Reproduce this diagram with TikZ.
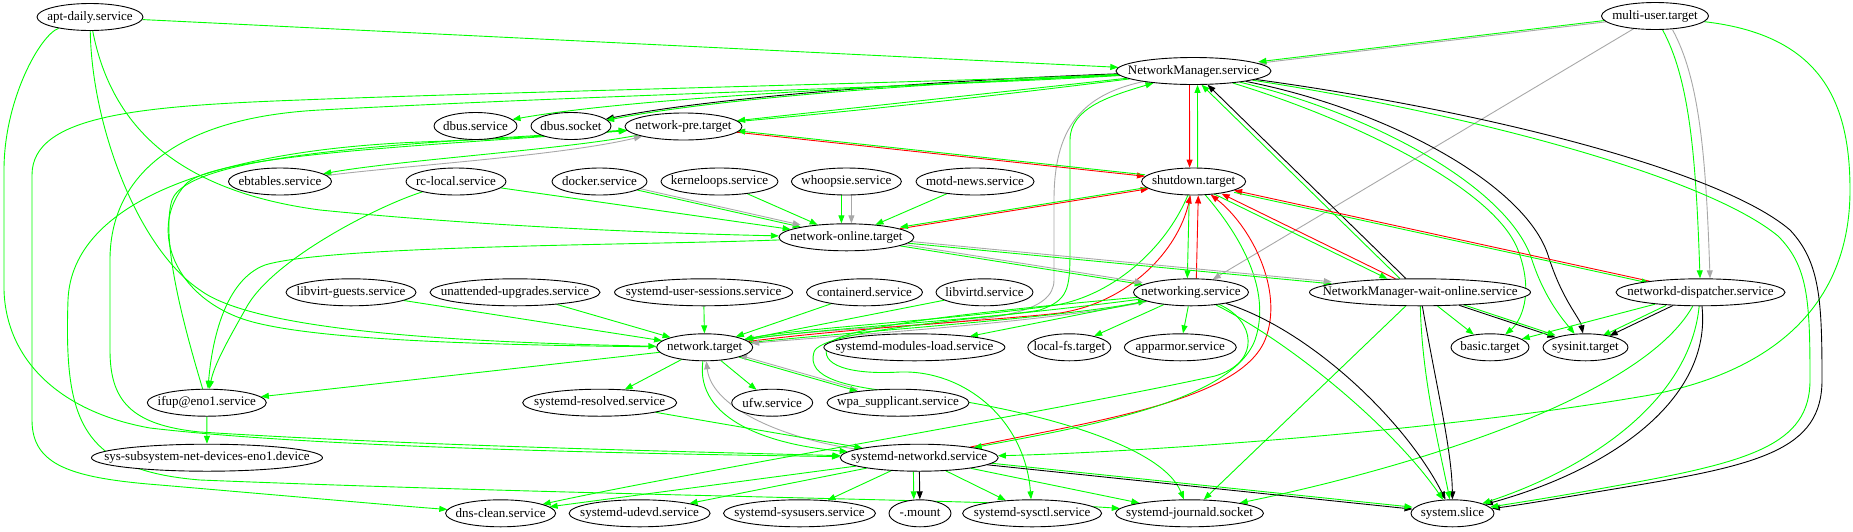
\documentclass[tikz,border=0pt]{standalone}
\usepackage{fontspec}
\setmainfont{Liberation Serif}
\usetikzlibrary{arrows.meta,shapes.geometric}
\definecolor{afterclr}{HTML}{00FF00}
\definecolor{wantclr}{HTML}{A8A8A8}
\definecolor{clashclr}{HTML}{FF0000}
\pgfdeclarelayer{edges}
\pgfsetlayers{edges,main}

\begin{document}
\begin{tikzpicture}[
  x=1pt, y=-1pt,
  unit/.style       = {ellipse, draw=black, line width=0.9pt, fill=white,
                       font=\fontsize{13}{15}\selectfont,
                       inner xsep=-60pt, inner ysep=-20pt, minimum height=27pt},
  link/.style       = {-{Triangle[length=8pt,width=6pt]}, line width=0.9pt},
  ordering/.style   = {link, afterclr},
  wanting/.style    = {link, wantclr},
  requiring/.style  = {link, black},
  conflicting/.style= {link, clashclr},
]
\useasboundingbox (0,0) rectangle (1853,531);

\node[unit, minimum width=106pt] (aptdaily)      at (90,17)       {apt-daily.service};
\node[unit, minimum width=107pt] (multiuser)     at (1655,16)     {multi-user.target};
\node[unit, minimum width=155pt] (nm)            at (1193.5,71)   {NetworkManager.service};
\node[unit, minimum width=83pt]  (dbussvc)       at (475.5,126)   {dbus.service};
\node[unit, minimum width=80pt]  (dbussock)      at (571,126)     {dbus.socket};
\node[unit, minimum width=117pt] (netpre)        at (683.5,126.5) {network-pre.target};
\node[unit, minimum width=103pt] (ebtables)      at (280,181.5)   {ebtables.service};
\node[unit, minimum width=100pt] (rclocal)       at (456,181.5)   {rc-local.service};
\node[unit, minimum width=95pt]  (docker)        at (599.5,181.5) {docker.service};
\node[unit, minimum width=117pt] (kerneloops)    at (719.5,181.5) {kerneloops.service};
\node[unit, minimum width=110pt] (whoopsie)      at (846.4,181.5) {whoopsie.service};
\node[unit, minimum width=118pt] (motd)          at (975,181.5)   {motd-news.service};
\node[unit, minimum width=104pt] (shutdown)      at (1193.6,181.5){shutdown.target};
\node[unit, minimum width=135pt] (netonline)     at (846.4,237.3) {network-online.target};
\node[unit, minimum width=130pt] (libvirtguests) at (351,292.3)   {libvirt-guests.service};
\node[unit, minimum width=170pt] (unattended)    at (515,292.3)   {unattended-upgrades.service};
\node[unit, minimum width=178pt] (usersessions)  at (703.6,292.3) {systemd-user-sessions.service};
\node[unit, minimum width=116pt] (containerd)    at (864.5,292.3) {containerd.service};
\node[unit, minimum width=97pt]  (libvirtd)      at (984.5,292.3) {libvirtd.service};
\node[unit, minimum width=115pt] (networking)    at (1191,292.3)  {networking.service};
\node[unit, minimum width=221pt] (nmwait)        at (1420,292.3)  {NetworkManager-wait-online.service};
\node[unit, minimum width=169pt] (dispatcher)    at (1700.5,292.3){networkd-dispatcher.service};
\node[unit, minimum width=96pt]  (nettarget)     at (704.7,347.3) {network.target};
\node[unit, minimum width=181pt] (modulesload)   at (914.4,347.3) {systemd-modules-load.service};
\node[unit, minimum width=83pt]  (localfs)       at (1069.3,347.3){local-fs.target};
\node[unit, minimum width=112pt] (apparmor)      at (1180.3,347.3){apparmor.service};
\node[unit, minimum width=78pt]  (basic)         at (1490,347.3)  {basic.target};
\node[unit, minimum width=85pt]  (sysinit)       at (1585.5,347.3){sysinit.target};
\node[unit, minimum width=119pt] (ifup)          at (206.8,402.7) {ifup@eno1.service};
\node[unit, minimum width=154pt] (resolved)      at (599.7,402.7) {systemd-resolved.service};
\node[unit, minimum width=81pt]  (ufw)           at (772.2,402.7) {ufw.service};
\node[unit, minimum width=142pt] (wpa)           at (898,402.7)   {wpa\_supplicant.service};
\node[unit, minimum width=231pt] (subsys)        at (207,457.7)   {sys-subsystem-net-devices-eno1.device};
\node[unit, minimum width=158pt] (networkd)      at (919.2,457.7) {systemd-networkd.service};
\node[unit, minimum width=110pt] (dnsclean)      at (500.6,513.3) {dns-clean.service};
\node[unit, minimum width=141pt] (udevd)         at (639.6,513.3) {systemd-udevd.service};
\node[unit, minimum width=152pt] (sysusers)      at (799.5,513.3) {systemd-sysusers.service};
\node[unit, minimum width=62pt]  (mount)         at (920,513.3)   {-.mount};
\node[unit, minimum width=139pt] (sysctl)        at (1032.1,513.3){systemd-sysctl.service};
\node[unit, minimum width=148pt] (journald)      at (1189.5,513.3){systemd-journald.socket};
\node[unit, minimum width=83pt]  (slice)         at (1452.5,513.3){system.slice};

\begin{pgfonlayer}{edges}
% apt-daily.service
\draw[ordering] (aptdaily) -- (nm);
\draw[ordering] (aptdaily) .. controls (110,120) and (170,190) .. (320,210)
  .. controls (500,228) and (690,234) .. (netonline);
\draw[ordering] (aptdaily) .. controls (92,130) and (140,250) .. (200,290)
  .. controls (260,335) and (500,343) .. (nettarget);
\draw[ordering] (aptdaily) .. controls (40,35) and (4,100) .. (4,170) -- (4,290)
  .. controls (6,360) and (60,412) .. (150,428) .. controls (320,448) and (650,454) .. (networkd);

% multi-user.target
\draw[wanting] (multiuser) -- (nm);
\draw[ordering, transform canvas={yshift=1.5pt}] (multiuser) -- (nm);
\draw[wanting] (multiuser) -- (networking);
\draw[ordering] (multiuser) .. controls (1690,80) and (1696,160) .. (dispatcher);
\draw[wanting, transform canvas={xshift=10pt}] (multiuser) .. controls (1690,80) and (1696,160) .. (dispatcher);
\draw[ordering] (multiuser) .. controls (1820,35) and (1850,100) .. (1850,190)
  .. controls (1850,300) and (1780,370) .. (1650,395) .. controls (1450,430) and (1150,452) .. (networkd);

% NetworkManager.service
\draw[requiring] (nm) .. controls (950,80) and (720,96) .. (dbussock);
\draw[ordering, transform canvas={yshift=-1.5pt}] (nm) .. controls (950,80) and (720,96) .. (dbussock);
\draw[ordering] (nm) .. controls (950,84) and (650,95) .. (dbussvc);
\draw[ordering] (nm) -- (netpre);
\draw[ordering] (nm) .. controls (950,82) and (500,92) .. (300,100)
  .. controls (140,106) and (32,115) .. (32,175) -- (32,420)
  .. controls (32,465) and (70,478) .. (160,485) .. controls (300,497) and (400,506) .. (dnsclean);
\draw[ordering] (nm) .. controls (950,86) and (600,95) .. (320,110)
  .. controls (170,118) and (110,180) .. (110,260) -- (110,350)
  .. controls (110,400) and (130,425) .. (200,432) .. controls (420,446) and (700,452) .. (networkd);
\draw[ordering] (nm) .. controls (1000,95) and (700,132) .. (420,142)
  .. controls (220,150) and (72,200) .. (68,300) .. controls (64,420) and (80,470) .. (200,480)
  .. controls (600,496) and (1000,500) .. (journald);
\draw[conflicting, transform canvas={xshift=-4pt}] (nm) -- (shutdown);
\draw[ordering, transform canvas={xshift=4pt}] (shutdown) -- (nm);
\draw[wanting] (nm) .. controls (1080,95) and (1054,130) .. (1054,200) -- (1054,280)
  .. controls (1054,312) and (1000,320) .. (900,326) .. controls (820,331) and (775,335) .. (nettarget);
\draw[ordering] (nettarget) .. controls (800,330) and (1000,318) .. (1040,310)
  .. controls (1068,300) and (1070,290) .. (1070,250) -- (1070,140)
  .. controls (1070,108) and (1110,96) .. (nm);
\draw[requiring] (nm) .. controls (1480,110) and (1720,170) .. (1790,230)
  .. controls (1820,262) and (1822,300) .. (1822,380)
  .. controls (1822,450) and (1760,465) .. (1620,488) .. controls (1560,498) and (1520,505) .. (slice);
\draw[ordering] (nm) .. controls (1470,114) and (1705,176) .. (1778,236)
  .. controls (1808,266) and (1810,300) .. (1810,380)
  .. controls (1810,445) and (1750,462) .. (1615,486) .. controls (1555,497) and (1515,503) .. (slice);
\draw[requiring] (nm) .. controls (1390,110) and (1525,185) .. (1548,255)
  .. controls (1562,300) and (1580,318) .. (sysinit);
\draw[ordering] (nm) .. controls (1380,116) and (1510,190) .. (1532,260)
  .. controls (1545,300) and (1565,322) .. (sysinit);
\draw[ordering] (nm) .. controls (1360,122) and (1495,190) .. (1518,250)
  .. controls (1535,295) and (1520,322) .. (basic);

% NetworkManager-wait-online.service
\draw[requiring] (nmwait) -- (nm);
\draw[ordering, transform canvas={xshift=-6pt}] (nmwait) -- (nm);
\draw[conflicting, transform canvas={xshift=3pt}] (nmwait) -- (shutdown);
\draw[ordering, transform canvas={xshift=-5pt}] (shutdown) -- (nmwait);
\draw[ordering] (nmwait) -- (basic);
\draw[requiring] (nmwait) -- (sysinit);
\draw[ordering, transform canvas={yshift=2pt}] (nmwait) -- (sysinit);
\draw[requiring] (nmwait) .. controls (1435,380) and (1452,450) .. (slice);
\draw[ordering] (nmwait) .. controls (1422,380) and (1440,450) .. (slice);
\draw[ordering] (nmwait) -- (journald);

% networkd-dispatcher.service
\draw[conflicting] (dispatcher) -- (shutdown);
\draw[ordering, transform canvas={yshift=-2pt}] (shutdown) -- (dispatcher);
\draw[ordering] (dispatcher) -- (basic);
\draw[requiring] (dispatcher) -- (sysinit);
\draw[ordering, transform canvas={xshift=-7pt}] (dispatcher) -- (sysinit);
\draw[requiring] (dispatcher) .. controls (1712,400) and (1610,470) .. (slice);
\draw[ordering] (dispatcher) .. controls (1690,400) and (1590,468) .. (slice);
\draw[ordering] (dispatcher) .. controls (1640,400) and (1400,470) .. (journald);

% shutdown.target
\draw[conflicting] (netpre) -- (shutdown);
\draw[ordering, transform canvas={yshift=1.5pt}] (shutdown) -- (netpre);
\draw[conflicting] (netonline) -- (shutdown);
\draw[ordering, transform canvas={yshift=1.5pt}] (shutdown) -- (netonline);
\draw[conflicting, transform canvas={xshift=5pt}] (networking) -- (shutdown);
\draw[ordering, transform canvas={xshift=-4pt}] (shutdown) -- (networking);
\draw[conflicting] (nettarget) .. controls (850,328) and (1000,320) .. (1060,313)
  .. controls (1130,302) and (1178,250) .. (shutdown);
\draw[ordering] (shutdown) .. controls (1165,250) and (1110,298) .. (1050,306)
  .. controls (950,320) and (800,328) .. (nettarget);
\draw[conflicting] (networkd) .. controls (1100,420) and (1240,400) .. (1265,340)
  .. controls (1285,290) and (1250,225) .. (shutdown);
\draw[ordering] (shutdown) .. controls (1240,235) and (1272,290) .. (1255,340)
  .. controls (1232,400) and (1095,425) .. (networkd);

% network-online.target
\draw[ordering] (docker) -- (netonline);
\draw[wanting, transform canvas={yshift=2pt}] (docker) -- (netonline);
\draw[ordering] (rclocal) -- (netonline);
\draw[ordering] (kerneloops) -- (netonline);
\draw[ordering, transform canvas={xshift=-5pt}] (whoopsie) -- (netonline);
\draw[wanting, transform canvas={xshift=5pt}] (whoopsie) -- (netonline);
\draw[ordering] (motd) -- (netonline);
\draw[ordering] (netonline) -- (networking);
\draw[wanting, transform canvas={yshift=2pt}] (netonline) -- (networking);
\draw[ordering] (netonline) -- (nmwait);
\draw[wanting, transform canvas={yshift=2pt}] (netonline) -- (nmwait);
\draw[ordering] (netonline) .. controls (650,245) and (330,245) .. (265,265)
  .. controls (225,280) and (212,340) .. (ifup);

% ifup@eno1.service and network-pre.target
\draw[ordering] (rclocal) .. controls (380,205) and (270,260) .. (245,310)
  .. controls (228,340) and (214,365) .. (ifup);
\draw[ordering] (ifup) .. controls (185,330) and (160,240) .. (172,200)
  .. controls (190,152) and (420,143) .. (netpre);
\draw[ordering] (ifup) -- (subsys);
\draw[ordering] (netpre) .. controls (560,150) and (400,160) .. (ebtables);
\draw[wanting] (ebtables) .. controls (400,166) and (560,156) .. (netpre);

% network.target
\draw[ordering] (nettarget) .. controls (480,345) and (300,340) .. (240,318)
  .. controls (170,292) and (150,225) .. (185,185) .. controls (210,155) and (420,146) .. (netpre);
\draw[ordering] (libvirtguests) -- (nettarget);
\draw[ordering] (unattended) -- (nettarget);
\draw[ordering] (usersessions) -- (nettarget);
\draw[ordering] (containerd) -- (nettarget);
\draw[ordering] (libvirtd) -- (nettarget);
\draw[ordering] (nettarget) .. controls (850,332) and (1060,318) .. (networking);
\draw[wanting] (networking) .. controls (1050,322) and (860,334) .. (nettarget);
\draw[ordering] (nettarget) -- (ifup);
\draw[ordering] (nettarget) -- (resolved);
\draw[ordering] (nettarget) -- (ufw);
\draw[ordering] (nettarget) -- (wpa);
\draw[wanting, transform canvas={yshift=2pt}] (wpa) -- (nettarget);
\draw[ordering] (nettarget) .. controls (695,420) and (770,445) .. (networkd);
\draw[wanting] (networkd) .. controls (790,440) and (712,410) .. (nettarget);
\draw[ordering] (resolved) -- (networkd);

% networking.service
\draw[ordering] (networking) -- (modulesload);
\draw[ordering] (networking) -- (localfs);
\draw[ordering] (networking) -- (apparmor);
\draw[ordering] (networking) .. controls (1000,310) and (840,325) .. (828,345)
  .. controls (818,365) and (850,375) .. (900,372) .. controls (965,370) and (1025,420) .. (sysctl);
\draw[ordering] (networking) .. controls (1000,318) and (822,328) .. (814,352)
  .. controls (806,378) and (845,387) .. (905,393) .. controls (1010,405) and (1160,440) .. (journald);
\draw[ordering] (networking) .. controls (1255,320) and (1262,362) .. (1215,376)
  .. controls (1050,412) and (700,470) .. (dnsclean);
\draw[requiring] (networking) .. controls (1310,330) and (1405,420) .. (slice);
\draw[ordering] (networking) .. controls (1295,345) and (1395,430) .. (slice);

% systemd-networkd.service
\draw[ordering] (networkd) -- (dnsclean);
\draw[ordering] (networkd) -- (udevd);
\draw[ordering] (networkd) -- (sysusers);
\draw[ordering, transform canvas={xshift=-6pt}] (networkd) -- (mount);
\draw[requiring] (networkd) -- (mount);
\draw[ordering] (networkd) -- (sysctl);
\draw[ordering] (networkd) -- (journald);
\draw[requiring] (networkd) -- (slice);
\draw[ordering, transform canvas={yshift=2pt}] (networkd) -- (slice);
\end{pgfonlayer}
\end{tikzpicture}
\end{document}
